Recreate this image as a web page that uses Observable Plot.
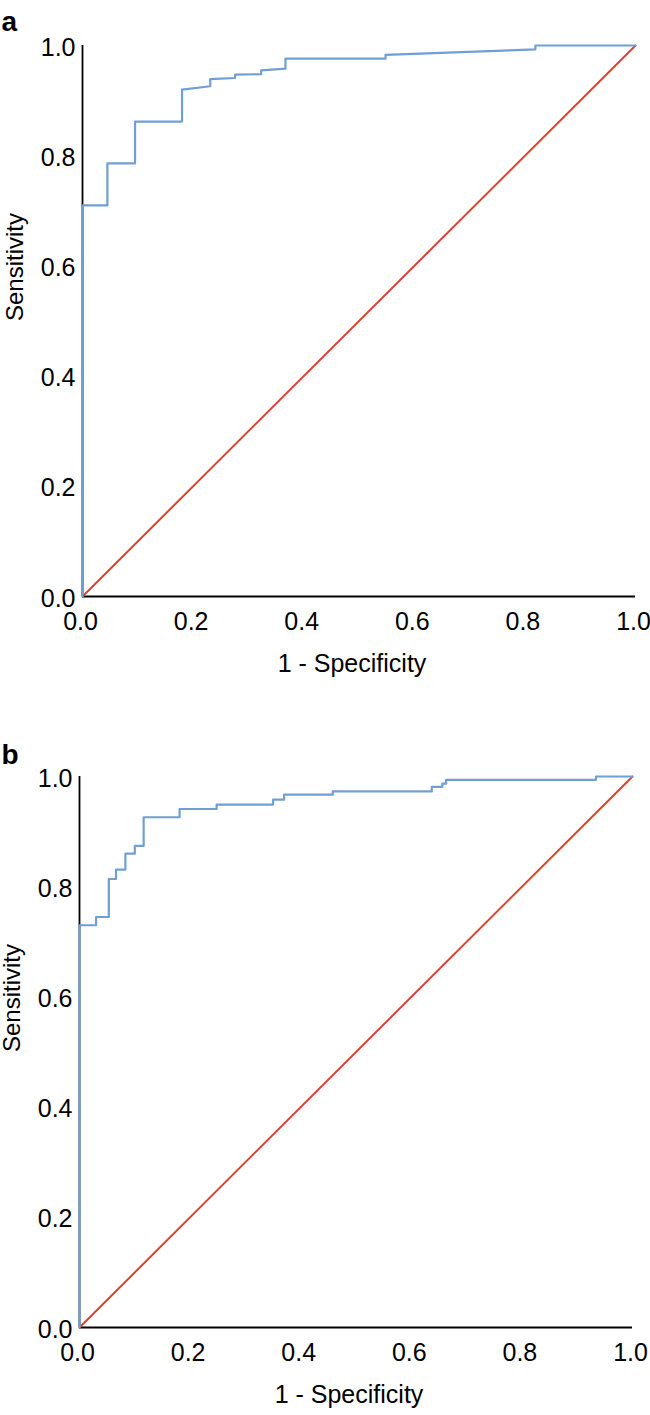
<!DOCTYPE html>
<html>
<head>
<meta charset="utf-8">
<script src="https://cdn.jsdelivr.net/npm/d3@7"></script>
<script src="https://cdn.jsdelivr.net/npm/@observablehq/plot@0.6"></script>
<style>
  html, body { margin: 0; padding: 0; background: #fff; }
  #chart { width: 650px; }
  #chart svg { display: block; }
</style>
</head>
<body>
<div id="chart"></div>
<script>
// ---- data ----
const panelLabels = ["a", "b"];
const axisTicks = [0, 0.2, 0.4, 0.6, 0.8, 1.0];
const xTitle = "1 - Specificity";
const yTitle = "Sensitivity";

// Panel a ROC curve vertices (1 - specificity, sensitivity)
const fprA = [0, 0, 0.045, 0.045, 0.095, 0.095, 0.18, 0.18, 0.231, 0.231, 0.276, 0.276, 0.323, 0.323, 0.367, 0.367, 0.548, 0.548, 0.819, 0.819, 1];
const tprA = [0, 0.71, 0.71, 0.786, 0.786, 0.862, 0.862, 0.92, 0.926, 0.939, 0.941, 0.947, 0.948, 0.955, 0.958, 0.976, 0.976, 0.983, 0.993, 1, 1];

// Panel b ROC curve vertices
const fprB = [0, 0, 0.03, 0.03, 0.053, 0.053, 0.066, 0.066, 0.083, 0.083, 0.100, 0.100, 0.116, 0.116, 0.181, 0.181, 0.248, 0.248, 0.35, 0.35, 0.37, 0.37, 0.458, 0.458, 0.637, 0.637, 0.656, 0.656, 0.663, 0.663, 0.934, 0.934, 1];
const tprB = [0, 0.73, 0.73, 0.745, 0.745, 0.814, 0.814, 0.831, 0.831, 0.860, 0.860, 0.874, 0.874, 0.926, 0.926, 0.941, 0.941, 0.949, 0.949, 0.958, 0.958, 0.967, 0.967, 0.973, 0.973, 0.981, 0.981, 0.987, 0.987, 0.994, 0.994, 1, 1];

// Reference diagonal
const diagX = [0, 1];
const diagY = [0, 1];

const toPts = (xs, ys) => xs.map((x, i) => ({x, y: ys[i]}));

function panel(label, fpr, tpr, layout) {
  const curve = toPts(fpr, tpr);
  const diag = toPts(diagX, diagY);
  return Plot.plot({
    width: 650,
    height: layout.height,
    marginTop: layout.top,
    marginBottom: layout.bottom,
    marginLeft: layout.left,
    marginRight: layout.right,
    style: {fontFamily: "'Liberation Sans', Arial, Helvetica, sans-serif", fontSize: "25px", color: "#000", background: "#fff", overflow: "visible"},
    x: {domain: [0, 1], ticks: axisTicks},
    y: {domain: [0, 1], ticks: axisTicks},
    marks: [
      Plot.axisX({ticks: axisTicks, tickSize: 0, tickPadding: 16, tickFormat: d3.format(".1f"), label: null, fontSize: 25, dx: -2}),
      Plot.axisY({ticks: axisTicks, tickSize: 0, tickPadding: 7, tickFormat: d3.format(".1f"), label: null, fontSize: 25, dy: 2}),
      Plot.ruleX([0], {y1: 0, y2: 1, stroke: "#000", strokeWidth: 1.8}),
      Plot.ruleY([0], {x1: 0, x2: 1, stroke: "#000", strokeWidth: 2.2}),
      Plot.line(diag, {x: "x", y: "y", stroke: "#e0402e", strokeWidth: 2}),
      Plot.line(curve, {x: "x", y: "y", stroke: "#6f9fd6", strokeWidth: 2.2}),
      Plot.text([yTitle], {frameAnchor: "left", dx: -67, rotate: -90, fontSize: 24, fill: "#000"}),
      Plot.text([xTitle], {frameAnchor: "bottom", dy: 75, dx: -7, fontSize: 25, fill: "#000"}),
      Plot.text([label], {frameAnchor: "top-left", textAnchor: "start", dx: -layout.left + 1, dy: layout.labelDy, fontSize: 28, fontWeight: "bold", fill: "#000"})
    ]
  });
}

const chart = document.getElementById("chart");
chart.appendChild(panel(panelLabels[0], fprA, tprA, {height: 700, top: 45, bottom: 104, left: 82, right: 15, labelDy: -34}));
chart.appendChild(panel(panelLabels[1], fprB, tprB, {height: 715, top: 76, bottom: 88, left: 79, right: 18, labelDy: -32}));
</script>
</body>
</html>
